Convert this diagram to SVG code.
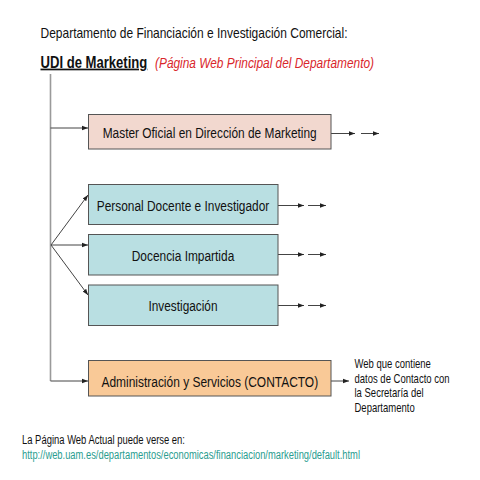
<svg xmlns="http://www.w3.org/2000/svg" width="480" height="480" viewBox="0 0 480 480">
<style>
text{font-family:"Liberation Sans",Arial,sans-serif;fill:#111}
.box{stroke:#555;stroke-width:1}
.pink{fill:#f2d8cf}
.blue{fill:#b9dfe2}
.orange{fill:#f9c997}
.lbl{font-size:15.5px;text-anchor:middle}
.c{stroke:#444;stroke-width:1;fill:none;marker-end:url(#ah)}
.side{font-size:12.5px}
</style>
<defs>
<marker id="ah" viewBox="0 0 6 6" refX="6" refY="3" markerWidth="6" markerHeight="6" markerUnits="userSpaceOnUse" orient="auto">
<path d="M0,0.8 L6,3 L0,5.2 z" fill="#222"/>
</marker>
</defs>
<rect width="480" height="480" fill="#fff"/>
<g id="header">
<text x="40.5" y="37.5" font-size="14.5" textLength="307" lengthAdjust="spacingAndGlyphs">Departamento de Financiación e Investigación Comercial:</text>
<text transform="translate(40.5,67.5) scale(0.77,1)" font-size="17" font-weight="bold" text-decoration="underline">UDI de Marketing</text>
<text x="155" y="67.5" font-size="15" font-style="italic" style="fill:#d9262b" textLength="219" lengthAdjust="spacingAndGlyphs">(Página Web Principal del Departamento)</text>
</g>
<g id="connectors">
<path d="M50.5,74 V381" stroke="#9a9a9a" stroke-width="1.6" fill="none"/>
<path class="c" d="M50.5,381 H88"/>
<path class="c" d="M50.5,128 H88"/>
<path class="c" d="M51,245 L88,195"/>
<path class="c" d="M51,245 H88"/>
<path class="c" d="M51,245 L88,295"/>
<path class="c" d="M331,133.5 H355"/>
<path class="c" d="M361,133.5 H379"/>
<path class="c" d="M278,205.5 H304"/>
<path class="c" d="M308,205.5 H326"/>
<path class="c" d="M278,254.5 H304"/>
<path class="c" d="M308,254.5 H326"/>
<path class="c" d="M278,305.5 H304"/>
<path class="c" d="M308,305.5 H326"/>
<path class="c" d="M331,381 H349"/>
</g>
<g id="master">
<rect class="box pink" x="88.5" y="114.5" width="242.5" height="34.5"/>
<text class="lbl" x="209.7" y="138" textLength="214" lengthAdjust="spacingAndGlyphs">Master Oficial en Dirección de Marketing</text>
</g>
<g id="personal">
<rect class="box blue" x="88.5" y="184.5" width="189.5" height="40"/>
<text class="lbl" x="183" y="211" textLength="172.5" lengthAdjust="spacingAndGlyphs">Personal Docente e Investigador</text>
</g>
<g id="docencia">
<rect class="box blue" x="88.5" y="234.5" width="189.5" height="40.5"/>
<text class="lbl" x="183" y="260.5" textLength="102.5" lengthAdjust="spacingAndGlyphs">Docencia Impartida</text>
</g>
<g id="investigacion">
<rect class="box blue" x="88.5" y="285" width="189.5" height="40.5"/>
<text class="lbl" x="183" y="311" textLength="69" lengthAdjust="spacingAndGlyphs">Investigación</text>
</g>
<g id="admin">
<rect class="box orange" x="88.5" y="360.5" width="242.5" height="35.5"/>
<text class="lbl" transform="translate(209.8,386.5) scale(0.772,1)">Administración y Servicios (CONTACTO)</text>
</g>
<g id="note">
<text class="side" transform="translate(354.5,368) scale(0.76,1)">Web que contiene</text>
<text class="side" transform="translate(354.5,382.5) scale(0.76,1)">datos de Contacto con</text>
<text class="side" transform="translate(354.5,397) scale(0.76,1)">la Secretaría del</text>
<text class="side" transform="translate(354.5,411.5) scale(0.76,1)">Departamento</text>
</g>
<g id="footer">
<text x="22" y="444" font-size="12.5" textLength="163" lengthAdjust="spacingAndGlyphs">La Página Web Actual puede verse en:</text>
<text x="22" y="458.5" font-size="12.5" style="fill:#2a9d8f" textLength="338" lengthAdjust="spacingAndGlyphs">http://web.uam.es/departamentos/economicas/financiacion/marketing/default.html</text>
</g>
</svg>
